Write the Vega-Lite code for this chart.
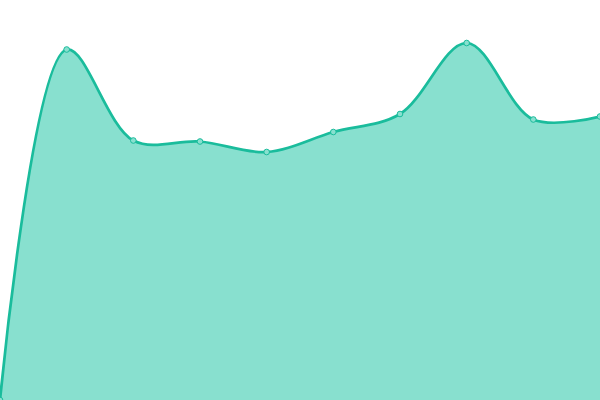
{
  "$schema": "https://vega.github.io/schema/vega-lite/v6.json",
  "autosize": {"type": "fit", "contains": "padding"},
  "width": 600,
  "height": 400,
  "padding": 0,
  "background": "white",
  "config": {"view": {"stroke": null}},
  "data": {
    "values": [
      {"i": 0, "v": 0},
      {"i": 1, "v": 350.5},
      {"i": 2, "v": 259.5},
      {"i": 3, "v": 258.5},
      {"i": 4, "v": 248},
      {"i": 5, "v": 268},
      {"i": 6, "v": 286},
      {"i": 7, "v": 357},
      {"i": 8, "v": 280.5},
      {"i": 9, "v": 283.5}
    ]
  },
  "encoding": {
    "x": {"field": "i", "type": "quantitative", "axis": null, "scale": {"domain": [0, 9], "nice": false, "zero": false}},
    "y": {"field": "v", "type": "quantitative", "axis": null, "scale": {"domain": [0, 400], "nice": false}}
  },
  "layer": [
    {"mark": {"type": "area", "interpolate": "catmull-rom", "color": "#88e0cf", "clip": true}},
    {"mark": {"type": "line", "interpolate": "catmull-rom", "color": "#1abc9c", "strokeWidth": 2.7, "clip": true}},
    {"mark": {"type": "point", "filled": true, "fill": "#88e0cf", "stroke": "#1abc9c", "strokeWidth": 1, "size": 32, "opacity": 1, "clip": true}}
  ]
}
